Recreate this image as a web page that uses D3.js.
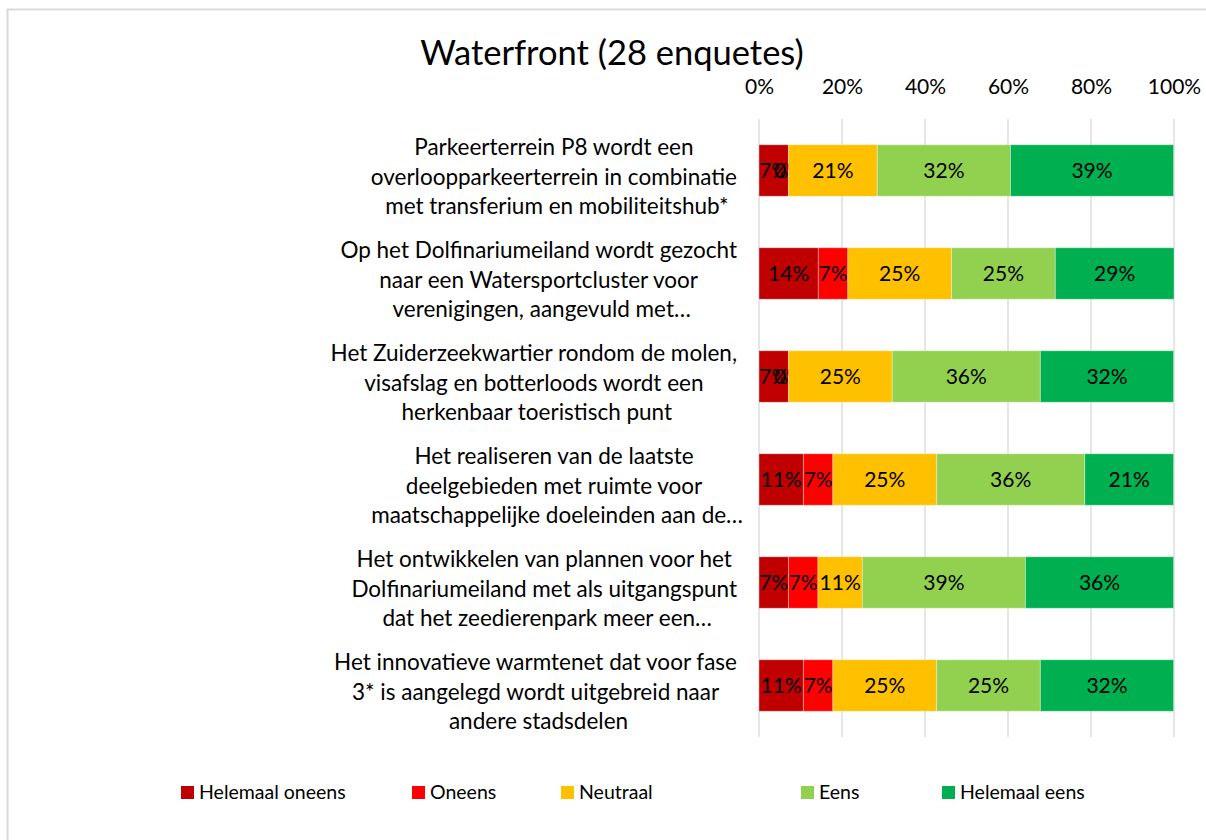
<!DOCTYPE html>
<html>
<head>
<meta charset="utf-8">
<script src="https://cdn.jsdelivr.net/npm/d3@7"></script>
<style>
  body { margin: 0; background: #fff; }
  text { font-family: Lato, "Open Sans", sans-serif; fill: #000; }
</style>
</head>
<body>
<div id="chart-area"></div>
<script>
// statements (each wrapped in 3 lines like the original)
const statements = [
  ["Parkeerterrein P8 wordt een", "overloopparkeerterrein in combinatie", "met transferium en mobiliteitshub*"],
  ["Op het Dolfinariumeiland wordt gezocht", "naar een Watersportcluster voor", "verenigingen, aangevuld met…"],
  ["Het Zuiderzeekwartier rondom de molen,", "visafslag en botterloods wordt een", "herkenbaar toeristisch punt"],
  ["Het realiseren van de laatste", "deelgebieden met ruimte voor", "maatschappelijke doeleinden aan de…"],
  ["Het ontwikkelen van plannen voor het", "Dolfinariumeiland met als uitgangspunt", "dat het zeedierenpark meer een…"],
  ["Het innovatieve warmtenet dat voor fase", "3* is aangelegd wordt uitgebreid naar", "andere stadsdelen"]
]
const answers = ["Helemaal oneens", "Oneens", "Neutraal", "Eens", "Helemaal eens"]
const colors = ["#C00000", "#FF0000", "#FFC000", "#92D050", "#00B050"]

// share per answer (percent), one array per statement
const helemaalOneens = [7.1, 14.3, 7.1, 10.7, 7.1, 10.7]
const oneens         = [0, 7.1, 0, 7.1, 7.1, 7.1]
const neutraal       = [21.4, 25.0, 25.0, 25.0, 10.7, 25.0]
const eens           = [32.1, 25.0, 35.7, 35.7, 39.3, 25.0]
const helemaalEens   = [39.3, 28.6, 32.1, 21.4, 35.7, 32.1]
const ticks = [0, 20, 40, 60, 80, 100]

const series = [helemaalOneens, oneens, neutraal, eens, helemaalEens]
const rows = statements.map((s, i) => {
  const r = { id: i, lines: s }
  answers.forEach((a, k) => { r[a] = series[k][i] })
  return r
})

const W = 1206, H = 840
const svg = d3.select("#chart-area").append("svg")
  .attr("width", W).attr("height", H)

// chart border
svg.append("rect")
  .attr("x", 7.5).attr("y", 9.5)
  .attr("width", 1300).attr("height", 1000)
  .attr("fill", "none").attr("stroke", "#d9d9d9").attr("stroke-width", 2)

// title
svg.append("text")
  .attr("x", 612).attr("y", 65)
  .attr("text-anchor", "middle")
  .attr("font-size", "34.5px")
  .text("Waterfront (28 enquetes)")

const x = d3.scaleLinear().domain([0, 100]).range([759, 1174])
const y = d3.scaleBand()
  .domain(rows.map(d => d.id))
  .range([119, 737])
  .paddingInner(0.5)
  .paddingOuter(0.25)

// gridlines
svg.append("g")
  .selectAll("line").data(ticks).join("line")
  .attr("x1", d => x(d)).attr("x2", d => x(d))
  .attr("y1", 119).attr("y2", 737)
  .attr("stroke", "#d9d9d9").attr("stroke-width", 1.3)

// top axis labels
const xAxis = svg.append("g")
  .attr("transform", "translate(0, 94)")
  .call(d3.axisTop(x).tickValues(ticks).tickFormat(d => d + "%").tickSize(0).tickPadding(0))
xAxis.select(".domain").remove()
xAxis.selectAll("text")
  .attr("font-size", "21px")
  .attr("font-family", "Lato, 'Open Sans', sans-serif")

// stacked bars
const stack = d3.stack().keys(answers)(rows)
const layers = svg.append("g").selectAll("g")
  .data(stack).join("g")
  .attr("fill", (d, i) => colors[i])

layers.selectAll("rect")
  .data(d => d).join("rect")
  .attr("x", d => x(d[0]))
  .attr("y", d => y(d.data.id))
  .attr("width", d => x(d[1]) - x(d[0]))
  .attr("height", y.bandwidth())
  .attr("stroke", "#ffffff").attr("stroke-opacity", 0.35).attr("stroke-width", 1)

// data labels
layers.selectAll("text")
  .data(d => d).join("text")
  .attr("x", d => (x(d[0]) + x(d[1])) / 2)
  .attr("y", d => y(d.data.id) + y.bandwidth() / 2)
  .attr("dy", "0.35em")
  .attr("text-anchor", "middle")
  .attr("font-size", "21px")
  .attr("fill", "#000")
  .text(d => Math.round(d[1] - d[0]) + "%")

// category labels: block right-aligned at LABEL_RIGHT, lines centred in the block
// (wrapped lines keep their trailing space, like Excel does)
const LABEL_RIGHT = 743
const TRAIL = 6
const labels = svg.append("g").selectAll("text")
  .data(rows).join("text")
  .attr("text-anchor", "middle")
  .attr("font-size", "22.5px")
const spans = labels.selectAll("tspan")
  .data(d => d.lines.map((l, k) => ({ l, k, id: d.id, last: k === d.lines.length - 1 })))
  .join("tspan")
  .attr("y", d => y(d.id) + y.bandwidth() / 2 + 14 + (d.k - 1) * 29.5)
  .text(d => d.l)
labels.each(function () {
  const ts = d3.select(this).selectAll("tspan")
  let blockW = 0
  ts.each(function (d) {
    d.w = this.getComputedTextLength() + (d.last ? 0 : TRAIL)
    blockW = Math.max(blockW, d.w)
  })
  const cx = LABEL_RIGHT - blockW / 2
  ts.attr("x", d => cx - (d.last ? 0 : TRAIL / 2))
})

// legend
const legendX = [181, 412, 561, 801, 942]
const legend = svg.append("g").selectAll("g")
  .data(answers).join("g")
  .attr("transform", (d, i) => `translate(${legendX[i]}, 786)`)
legend.append("rect")
  .attr("width", 13).attr("height", 13)
  .attr("fill", (d, i) => colors[i])
legend.append("text")
  .attr("x", 18).attr("y", 13)
  .attr("font-size", "19.5px")
  .text(d => d)
</script>
</body>
</html>
